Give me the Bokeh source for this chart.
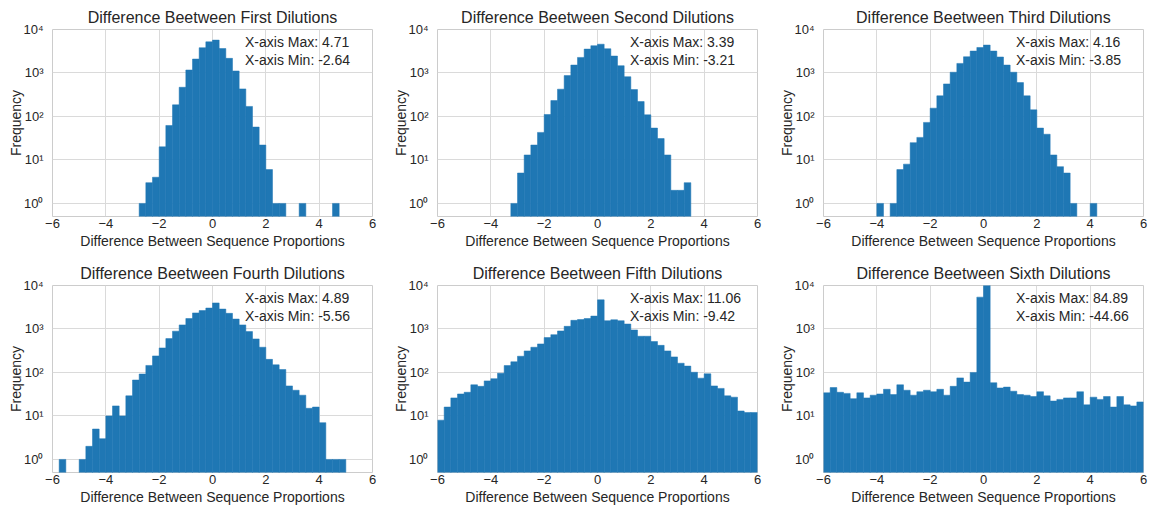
from bokeh.plotting import figure
from bokeh.layouts import gridplot
from bokeh.models import FixedTicker, Label
from bokeh.embed import file_html
from bokeh.resources import INLINE

# ---------------- data ----------------
BIN_START = -6.0
BIN_WIDTH = 0.25
N_BINS = 48

titles = [
    "Difference Beetween First Dilutions",
    "Difference Beetween Second Dilutions",
    "Difference Beetween Third Dilutions",
    "Difference Beetween Fourth Dilutions",
    "Difference Beetween Fifth Dilutions",
    "Difference Beetween Sixth Dilutions",
]
x_max_values = [4.71, 3.39, 4.16, 4.89, 11.06, 84.89]
x_min_values = [-2.64, -3.21, -3.85, -5.56, -9.42, -44.66]

first_counts = [0, 0, 0, 0, 0, 0, 0, 0, 0, 0, 0, 0, 0,
                1, 3, 4, 20, 62, 185, 469, 1170, 2090, 3810,
                5200, 5700, 3650, 2170, 1110, 430, 170, 57, 22, 6,
                1, 1, 0, 0, 1, 0, 0, 0, 0, 1,
                0, 0, 0, 0, 0]
second_counts = [0, 0, 0, 0, 0, 0, 0, 0, 0, 0, 0,
                 1, 5, 13, 22, 43, 111, 232, 424, 870, 1520,
                 2280, 3540, 4240, 4590, 3610, 2450, 1470, 820, 415, 220,
                 109, 54, 31, 13, 2, 2, 3,
                 0, 0, 0, 0, 0, 0, 0, 0, 0, 0]
third_counts = [0, 0, 0, 0, 0, 0, 0, 0,
                1, 0, 1, 6, 8, 25, 33, 73, 155, 298, 560, 1040,
                1660, 2360, 3190, 3860, 4380, 3190, 2330, 1520, 1040, 600,
                298, 142, 54, 39, 13, 7, 5, 1, 0, 0, 1,
                0, 0, 0, 0, 0, 0, 0]
fourth_counts = [0, 1, 0, 0, 1, 2, 5, 3, 10, 17, 10, 29, 67, 92, 145, 240,
                 366, 600, 890, 1240, 1740, 2340, 2650, 3030, 3970, 2870,
                 2290, 1690, 1240, 870, 590, 380, 200, 150, 117, 49, 39, 30,
                 15, 16, 7, 1, 1, 1, 0, 0, 0, 0]
fifth_counts = [8, 16, 26, 32, 35, 52, 48, 64, 72, 96, 144, 176, 236, 313,
                380, 453, 634, 740, 900, 1150, 1580, 1650, 1740, 1980, 4680,
                1550, 1630, 1550, 1300, 950, 680, 680, 514, 420, 313, 228,
                163, 140, 101, 74, 93, 49, 43, 29, 27, 13, 12, 12]
sixth_counts = [34, 45, 35, 33, 25, 34, 26, 30, 32, 41, 31, 52, 39, 30, 36,
                39, 36, 41, 30, 48, 75, 60, 100, 5400, 12000, 58, 44, 46, 37,
                31, 30, 28, 36, 29, 22, 24, 26, 26, 36, 18, 27, 24, 28, 16,
                28, 18, 17, 21]

all_counts = [first_counts, second_counts, third_counts,
              fourth_counts, fifth_counts, sixth_counts]

x_ticks = [-6, -4, -2, 0, 2, 4, 6]
y_ticks = [1, 10, 100, 1000, 10000]
y_tick_labels = ["10\u2070", "10\u00b9", "10\u00b2", "10\u00b3", "10\u2074"]

# ---------------- style ----------------
FONT = "Liberation Sans"
TEXT = "#262626"
GRID = "#dadada"
BAR = "#1f77b4"

col_widths = [385, 386, 383]
col_right = [13, 14, 11]


def make_panel(i):
    counts = all_counts[i]
    left, right, top = [], [], []
    for k, c in enumerate(counts):
        if c > 0:
            left.append(BIN_START + k * BIN_WIDTH)
            right.append(BIN_START + (k + 1) * BIN_WIDTH)
            top.append(c)
    col = i % 3
    p = figure(width=col_widths[col], height=256,
               x_range=(-6, 6), y_range=(0.5, 10000), y_axis_type="log",
               output_backend="svg", toolbar_location=None,
               min_border_left=52, min_border_right=col_right[col],
               min_border_top=29, min_border_bottom=40,
               title=titles[i])
    p.quad(left=left, right=right, top=top, bottom=0.01,
           fill_color=BAR, line_color=BAR, line_width=0.5)

    p.title.text_font = FONT
    p.title.text_font_size = "16px"
    p.title.text_font_style = "normal"
    p.title.text_color = TEXT
    p.title.align = "center"
    p.title.standoff = 7

    p.outline_line_color = "#cccccc"
    p.outline_line_width = 1
    p.background_fill_color = "white"
    p.border_fill_color = "white"

    p.xgrid.grid_line_color = GRID
    p.ygrid.grid_line_color = GRID

    p.xaxis.ticker = FixedTicker(ticks=x_ticks)
    p.xaxis.major_label_overrides = {t: (("\u2212" + str(-t)) if t < 0 else str(t)) for t in x_ticks}
    p.yaxis.ticker = FixedTicker(ticks=y_ticks)
    p.yaxis.major_label_overrides = dict(zip(y_ticks, y_tick_labels))

    for ax in (p.xaxis, p.yaxis):
        ax.axis_line_color = None
        ax.major_tick_line_color = None
        ax.minor_tick_line_color = None
        ax.major_tick_out = 0
        ax.major_tick_in = 0
        ax.minor_tick_out = 0
        ax.minor_tick_in = 0
        ax.major_label_text_font = FONT
        ax.major_label_text_font_size = "13px"
        ax.major_label_text_color = TEXT
        ax.axis_label_text_font = FONT
        ax.axis_label_text_font_size = "14px"
        ax.axis_label_text_font_style = "normal"
        ax.axis_label_text_color = TEXT
    p.xaxis.major_label_standoff = 2
    p.xaxis.axis_label_standoff = 2
    p.yaxis.major_label_standoff = 9
    p.yaxis.axis_label_standoff = -4
    p.xaxis.axis_label = "Difference Between Sequence Proportions"
    p.yaxis.axis_label = "Frequency"

    p.add_layout(Label(x=1.22, y=5100, text="X-axis Max: %.2f" % x_max_values[i],
                       text_font=FONT, text_font_size="14px", text_color=TEXT,
                       text_baseline="middle"))
    p.add_layout(Label(x=1.22, y=2040, text="X-axis Min: %.2f" % x_min_values[i],
                       text_font=FONT, text_font_size="14px", text_color=TEXT,
                       text_baseline="middle"))
    return p


panels = [make_panel(i) for i in range(6)]
layout = gridplot([panels[0:3], panels[3:6]], toolbar_location=None)

open("out.html", "w").write(file_html(layout, INLINE))
